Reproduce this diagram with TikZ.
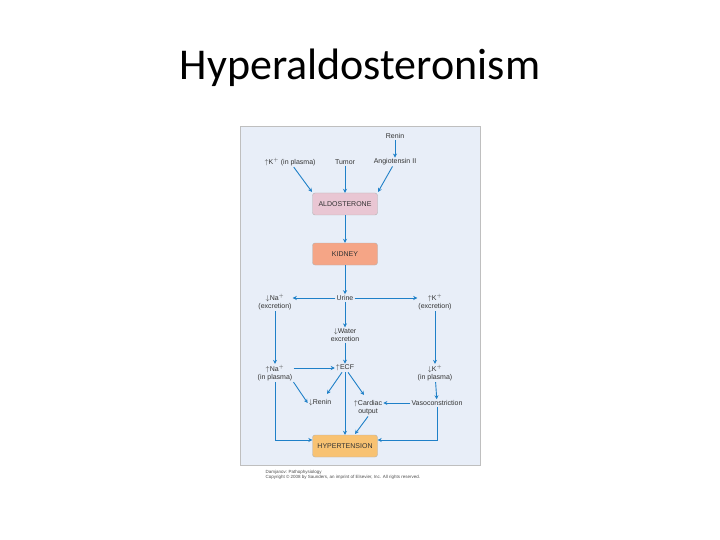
\documentclass[tikz,border=0pt]{standalone}
\usepackage{fontspec}
\setmainfont{Liberation Sans}
\newfontfamily\titlefont{Carlito}
\usetikzlibrary{arrows.meta}
\definecolor{arblue}{HTML}{1F80C8}
\definecolor{panel}{HTML}{E8EEF8}
\definecolor{aldc}{HTML}{E9C6D3}
\definecolor{kidc}{HTML}{F5A586}
\definecolor{hypc}{HTML}{F8C272}
\begin{document}
\begin{tikzpicture}[x=1pt,y=-1pt,
  lbl/.style={font=\fontsize{7}{8}\selectfont,text=black!80,align=center,inner sep=1pt},
  box/.style={draw=black!30,rounded corners=2.5pt,minimum width=65pt,minimum height=22pt,font=\fontsize{7}{8}\selectfont,text=black!80,inner sep=1pt},
  ar/.style={draw=arblue,line width=0.9pt,-{Stealth[length=4pt,width=4pt]}}]
\useasboundingbox (0,0) rectangle (720,540);
\node[font=\titlefont\fontsize{44}{46}\selectfont] (title) at (360,68) {Hyperaldosteronism};
\draw[draw=black!25,fill=panel] (240,126) rectangle (480,465);
\node[lbl] (renin1) at (395,136) {Renin};
\node[lbl] (ang) at (395,162) {Angiotensin II};
\node[lbl] (kp) at (290,162) {$\uparrow$K$^+$ (in plasma)};
\node[lbl] (tumor) at (345,162) {Tumor};
\node[box,fill=aldc] (ald) at (345,204) {ALDOSTERONE};
\node[box,fill=kidc] (kid) at (345,254) {KIDNEY};
\node[lbl] (urine) at (345,298) {Urine};
\node[lbl] (nae) at (275,302) {$\downarrow$Na$^+$\\(excretion)};
\node[lbl] (ke) at (435,302) {$\uparrow$K$^+$\\(excretion)};
\node[lbl] (water) at (345,335) {$\downarrow$Water\\excretion};
\node[lbl] (nap) at (275,373) {$\uparrow$Na$^+$\\(in plasma)};
\node[lbl] (ecf) at (345,368) {$\uparrow$ECF};
\node[lbl] (kpl) at (435,373) {$\downarrow$K$^+$\\(in plasma)};
\node[lbl] (renin2) at (320,403) {$\downarrow$Renin};
\node[lbl] (card) at (368,408) {$\uparrow$Cardiac\\output};
\node[lbl] (vaso) at (437,403) {Vasoconstriction};
\node[box,fill=hypc] (hyp) at (345,446) {HYPERTENSION};
\node[font=\fontsize{4.5}{5.5}\selectfont,text=black!70,align=left,anchor=west] (cap) at (262,475) {Damjanov: Pathophysiology\\Copyright \copyright{} 2008 by Saunders, an imprint of Elsevier, Inc. All rights reserved.};
\draw[ar] (renin1) -- (ang);
\draw[ar] (kp) -- (312,192);
\draw[ar] (tumor) -- (ald);
\draw[ar] (ang) -- (378,192);
\draw[ar] (ald) -- (kid);
\draw[ar] (kid) -- (urine);
\draw[ar] (urine) -- (nae.north east |- urine);
\draw[ar] (urine) -- (ke.north west |- urine);
\draw[ar] (nae) -- (nap);
\draw[ar] (urine) -- (water);
\draw[ar] (water) -- (ecf);
\draw[ar] (ke) -- (kpl);
\draw[ar] (nap.north east |- ecf) -- (ecf);
\draw[ar] (nap.south east) -- (renin2.west);
\draw[ar] (ecf) -- (327,394);
\draw[ar] (ecf) -- (364,395);
\draw[ar] (ecf) -- (hyp);
\draw[ar] (card.south) -- (355,434);
\draw[ar] (kpl) -- (vaso);
\draw[ar] (vaso) -- (card.east |- vaso);
\draw[ar] (nap) -- (275,440) -- (hyp.west |- 0,440);
\draw[ar] (vaso) -- (437,440) -- (hyp.east |- 0,440);
\end{tikzpicture}
\end{document}
